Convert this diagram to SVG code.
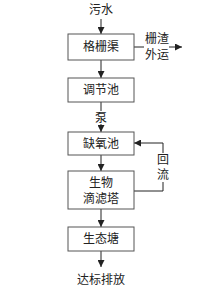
<svg xmlns="http://www.w3.org/2000/svg" width="224" height="295" viewBox="0 0 224 295">
<style>
.box{fill:#fff;stroke:#555;stroke-width:1}
.t{font-family:"Liberation Serif","Noto Sans CJK SC",serif;font-size:12px;fill:#222;text-anchor:middle;dominant-baseline:central}
.ln{stroke:#222;stroke-width:1;fill:none}
</style>
<defs>
<marker id="a" viewBox="0 0 10 10" refX="10" refY="5" markerWidth="7" markerHeight="7" orient="auto" markerUnits="userSpaceOnUse"><path d="M0,0L10,5L0,10z" fill="#222"/></marker>
</defs>
<rect width="224" height="295" fill="#fff"/>
<g id="connectors">
<line class="ln" x1="101" y1="19" x2="101" y2="34" marker-end="url(#a)"/>
<line class="ln" x1="134" y1="47" x2="144" y2="47"/>
<line class="ln" x1="169" y1="47" x2="182" y2="47" marker-end="url(#a)"/>
<line class="ln" x1="101" y1="60" x2="101" y2="78" marker-end="url(#a)"/>
<line class="ln" x1="101" y1="102" x2="101" y2="111"/>
<line class="ln" x1="101" y1="124" x2="101" y2="132" marker-end="url(#a)"/>
<line class="ln" x1="101" y1="155" x2="101" y2="171" marker-end="url(#a)"/>
<polyline class="ln" points="134,191 163,191 163,182"/>
<polyline class="ln" points="163,153 163,143 134,143" marker-end="url(#a)"/>
<line class="ln" x1="101" y1="209" x2="101" y2="227" marker-end="url(#a)"/>
<line class="ln" x1="101" y1="251" x2="101" y2="267" marker-end="url(#a)"/>
<text class="t" x="101" y="118">泵</text>
<text class="t" x="163" y="160">回</text>
<text class="t" x="163" y="175">流</text>
<text class="t" x="157" y="39">栅渣</text>
<text class="t" x="157" y="55">外运</text>
</g>
<g id="in"><text class="t" x="101" y="10">污水</text></g>
<g id="n1"><rect class="box" x="68" y="34" width="66" height="26"/><text class="t" x="101" y="47">格栅渠</text></g>
<g id="n2"><rect class="box" x="68" y="78" width="66" height="24"/><text class="t" x="101" y="90">调节池</text></g>
<g id="n3"><rect class="box" x="68" y="132" width="66" height="23"/><text class="t" x="101" y="143.5">缺氧池</text></g>
<g id="n4"><rect class="box" x="68" y="171" width="66" height="38"/><text class="t" x="101" y="183">生物</text><text class="t" x="101" y="199">滴滤塔</text></g>
<g id="n5"><rect class="box" x="68" y="227" width="66" height="24"/><text class="t" x="101" y="239">生态塘</text></g>
<g id="out"><text class="t" x="101" y="280">达标排放</text></g>
</svg>
